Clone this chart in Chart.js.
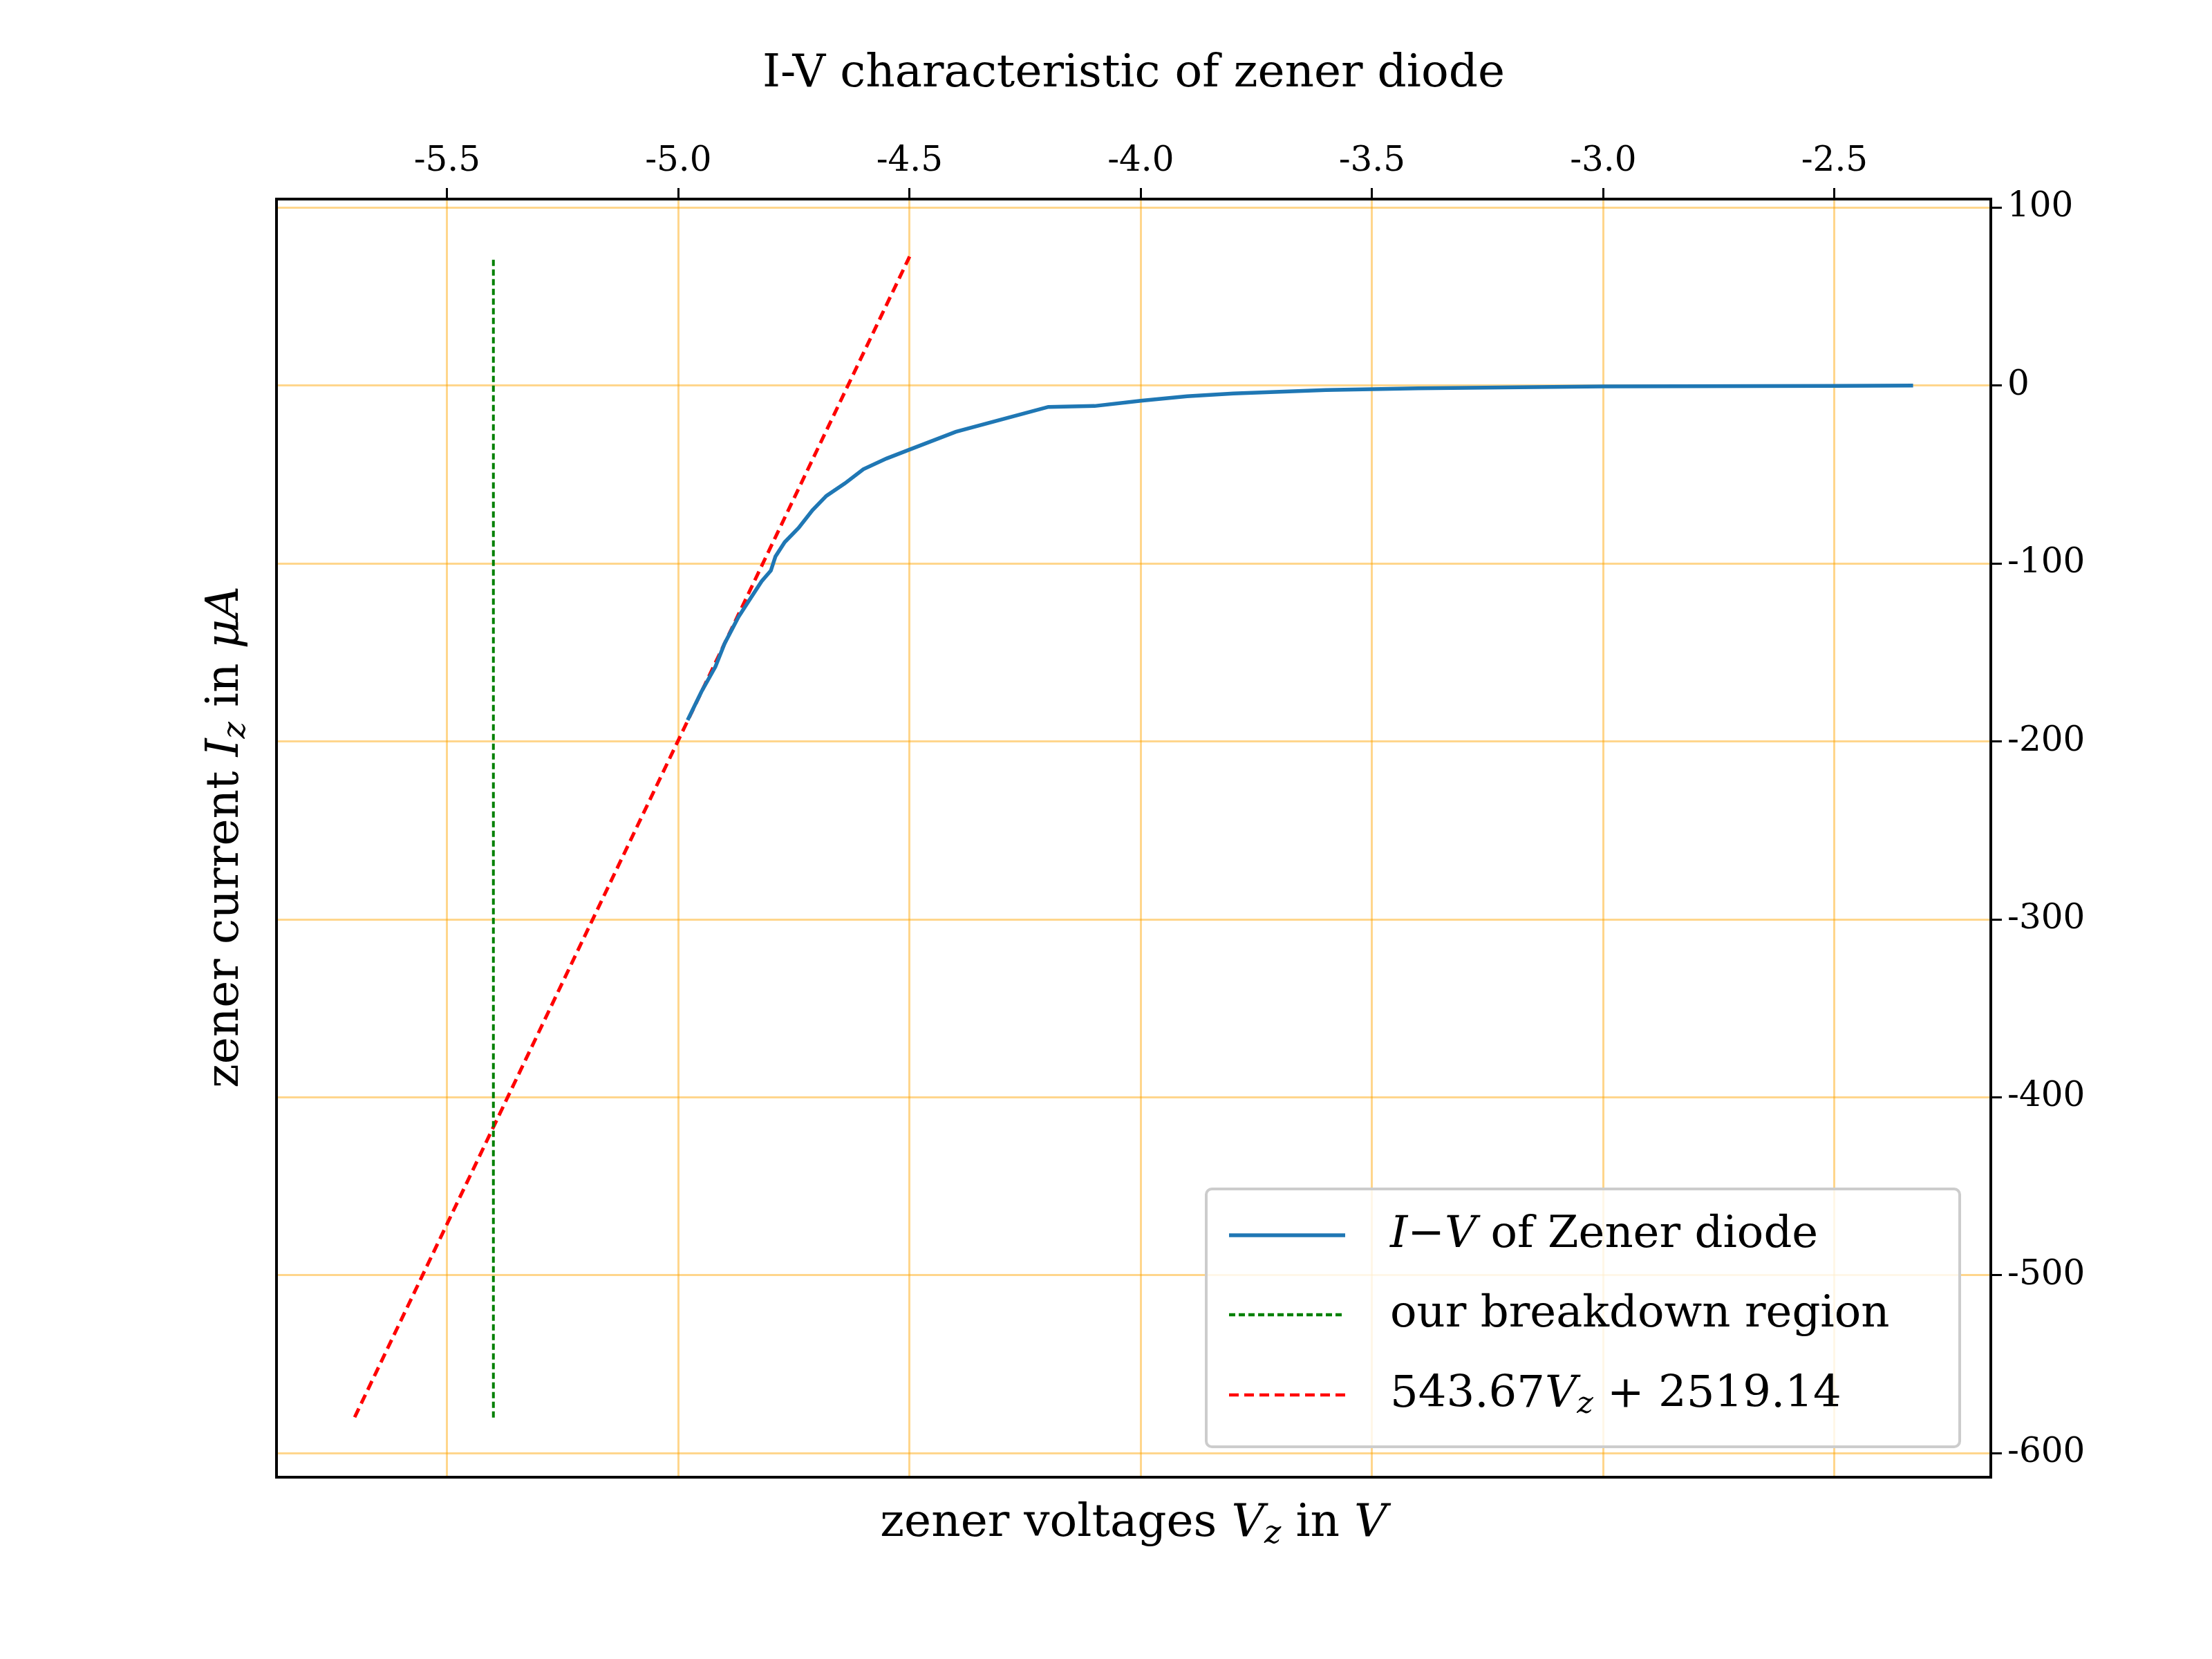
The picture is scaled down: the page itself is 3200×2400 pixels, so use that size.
<!DOCTYPE html>
<html>
<head>
<meta charset="utf-8">
<script src="https://cdn.jsdelivr.net/npm/chart.js@4.4.0/dist/chart.umd.min.js"></script>
<style>
  html, body { margin: 0; padding: 0; background: #fff; }
</style>
</head>
<body>
<canvas id="chart" width="3200" height="2400"></canvas>
<script>
// measured I-V points of the zener diode (V, uA)
const voltages = [-4.98, -4.95, -4.92, -4.90, -4.87, -4.85, -4.82, -4.80, -4.79, -4.77, -4.74, -4.71,
    -4.68, -4.64, -4.60, -4.55, -4.50, -4.40, -4.30, -4.20, -4.10, -4.00, -3.90, -3.80, -3.60, -3.40,
    -3.00, -2.50, -2.33];
const currents = [-188, -172, -158, -145, -130, -122, -110, -104, -96, -88, -80, -70,
    -62, -55, -47, -41, -36, -26, -19, -12, -11.5, -8.5, -6, -4.5, -2.5, -1.5,
    -0.5, -0.2, 0];

// fit line 543.67 Vz + 2519.14, drawn between these voltages
const fitVoltages = [-5.70, -4.50];
const fitCurrents = [-579.8, 72.5];

// breakdown marker
const breakdownVoltages = [-5.40, -5.40];
const breakdownCurrents = [-580, 72];

const xTicks = [-5.5, -5.0, -4.5, -4.0, -3.5, -3.0, -2.5];
const yTicks = [100, 0, -100, -200, -300, -400, -500, -600];

const legendLabels = [
    [{ t: 'I', i: true }, { t: '\u2212', i: false }, { t: 'V', i: true }, { t: ' of Zener diode', i: false }],
    [{ t: 'our breakdown region', i: false }],
    [{ t: '543.67', i: false }, { t: 'V', i: true }, { t: 'z', i: true, sub: true }, { t: ' + 2519.14', i: false }]
];
const legendColors = ['#1f77b4', 'green', 'red'];
const legendDash = [[], [9, 5], [14, 8]];

const SERIF = '"DejaVu Serif", "Liberation Serif", serif';

function pts(xs, ys) {
    return xs.map((x, k) => ({ x: x, y: ys[k] }));
}

function drawRuns(ctx, runs, x, y, size) {
    runs.forEach((r) => {
        const s = r.sub ? size * 0.7 : size;
        ctx.font = `${r.i ? 'italic ' : ''}${s}px ${SERIF}`;
        ctx.fillText(r.t, x, r.sub ? y + size * 0.22 : y);
        x += ctx.measureText(r.t).width;
    });
}

function runsWidth(ctx, runs, size) {
    return runs.reduce((w, r) => {
        const s = r.sub ? size * 0.7 : size;
        ctx.font = `${r.i ? 'italic ' : ''}${s}px ${SERIF}`;
        return w + ctx.measureText(r.t).width;
    }, 0);
}

const textPlugin = {
    id: 'texts',
    afterDraw(chart) {
        const ctx = chart.ctx;
        ctx.save();
        ctx.fillStyle = '#000';
        ctx.textBaseline = 'middle';
        ctx.textAlign = 'left';

        // title
        const title = [{ t: 'I-V characteristic of zener diode', i: false }];
        let w = runsWidth(ctx, title, 66);
        drawRuns(ctx, title, 1640 - w / 2, 108, 66);

        // x axis title
        const xt = [{ t: 'zener voltages ', i: false }, { t: 'V', i: true }, { t: 'z', i: true, sub: true },
            { t: ' in ', i: false }, { t: 'V', i: true }];
        w = runsWidth(ctx, xt, 66);
        drawRuns(ctx, xt, 1640 - w / 2, 2205, 66);

        // y axis title
        const yt = [{ t: 'zener current ', i: false }, { t: 'I', i: true }, { t: 'z', i: true, sub: true },
            { t: ' in ', i: false }, { t: '\u03bcA', i: true }];
        ctx.save();
        ctx.translate(327, 1211);
        ctx.rotate(-Math.PI / 2);
        w = runsWidth(ctx, yt, 66);
        drawRuns(ctx, yt, -w / 2, 0, 66);
        ctx.restore();

        // legend
        ctx.fillStyle = 'rgba(255,255,255,0.8)';
        ctx.strokeStyle = '#cccccc';
        ctx.lineWidth = 4;
        ctx.beginPath();
        ctx.roundRect(1745, 1720, 1090, 373, 8);
        ctx.fill();
        ctx.stroke();
        const rows = [1787, 1902, 2018];
        rows.forEach((ry, k) => {
            ctx.strokeStyle = legendColors[k];
            ctx.lineWidth = k === 0 ? 5.5 : 4.5;
            ctx.setLineDash(legendDash[k]);
            ctx.beginPath();
            ctx.moveTo(1778, ry);
            ctx.lineTo(1946, ry);
            ctx.stroke();
            ctx.setLineDash([]);
            ctx.fillStyle = '#000';
            drawRuns(ctx, legendLabels[k], 2011, ry, 64);
        });
        ctx.restore();
    }
};

const gridColor = 'rgba(255, 165, 0, 0.45)';
const tickFont = { family: SERIF, size: 50 };

new Chart(document.getElementById('chart'), {
    type: 'scatter',
    data: {
        datasets: [
            {
                data: pts(voltages, currents),
                showLine: true, borderColor: '#1f77b4', borderWidth: 5.5,
                pointRadius: 0, xAxisID: 'xt', yAxisID: 'yr'
            },
            {
                data: pts(breakdownVoltages, breakdownCurrents),
                showLine: true, borderColor: 'green', borderWidth: 4, borderDash: [9, 5],
                pointRadius: 0, xAxisID: 'xt', yAxisID: 'yr'
            },
            {
                data: pts(fitVoltages, fitCurrents),
                showLine: true, borderColor: 'red', borderWidth: 5, borderDash: [14, 8],
                pointRadius: 0, xAxisID: 'xt', yAxisID: 'yr'
            }
        ]
    },
    options: {
        responsive: false,
        animation: false,
        layout: { padding: 0 },
        plugins: { legend: { display: false }, tooltip: { enabled: false }, title: { display: false } },
        scales: {
            xt: {
                type: 'linear', position: 'top', min: -5.869, max: -2.162,
                afterBuildTicks: (s) => { s.ticks = xTicks.map((v) => ({ value: v })); },
                afterFit: (s) => { s.height = 288; },
                ticks: { font: tickFont, color: '#000', padding: 8, maxRotation: 0, callback: (v) => v.toFixed(1) },
                grid: { color: gridColor, lineWidth: 3, tickColor: '#000', tickLength: 16, tickWidth: 3 },
                border: { color: '#000', width: 4 }
            },
            xb: {
                type: 'linear', position: 'bottom', min: -5.869, max: -2.162,
                afterFit: (s) => { s.height = 263; },
                ticks: { display: false },
                grid: { display: false },
                border: { color: '#000', width: 4 }
            },
            yr: {
                type: 'linear', position: 'right', min: -613.5, max: 104.8,
                afterBuildTicks: (s) => { s.ticks = yTicks.map((v) => ({ value: v })); },
                afterFit: (s) => { s.width = 320; },
                ticks: { font: tickFont, color: '#000', padding: 8, callback: (v) => String(v) },
                grid: { color: gridColor, lineWidth: 3, tickColor: '#000', tickLength: 16, tickWidth: 3 },
                border: { color: '#000', width: 4 }
            },
            yl: {
                type: 'linear', position: 'left', min: -613.5, max: 104.8,
                afterFit: (s) => { s.width = 400; },
                ticks: { display: false },
                grid: { display: false },
                border: { color: '#000', width: 4 }
            }
        }
    },
    plugins: [textPlugin]
});
</script>
</body>
</html>
